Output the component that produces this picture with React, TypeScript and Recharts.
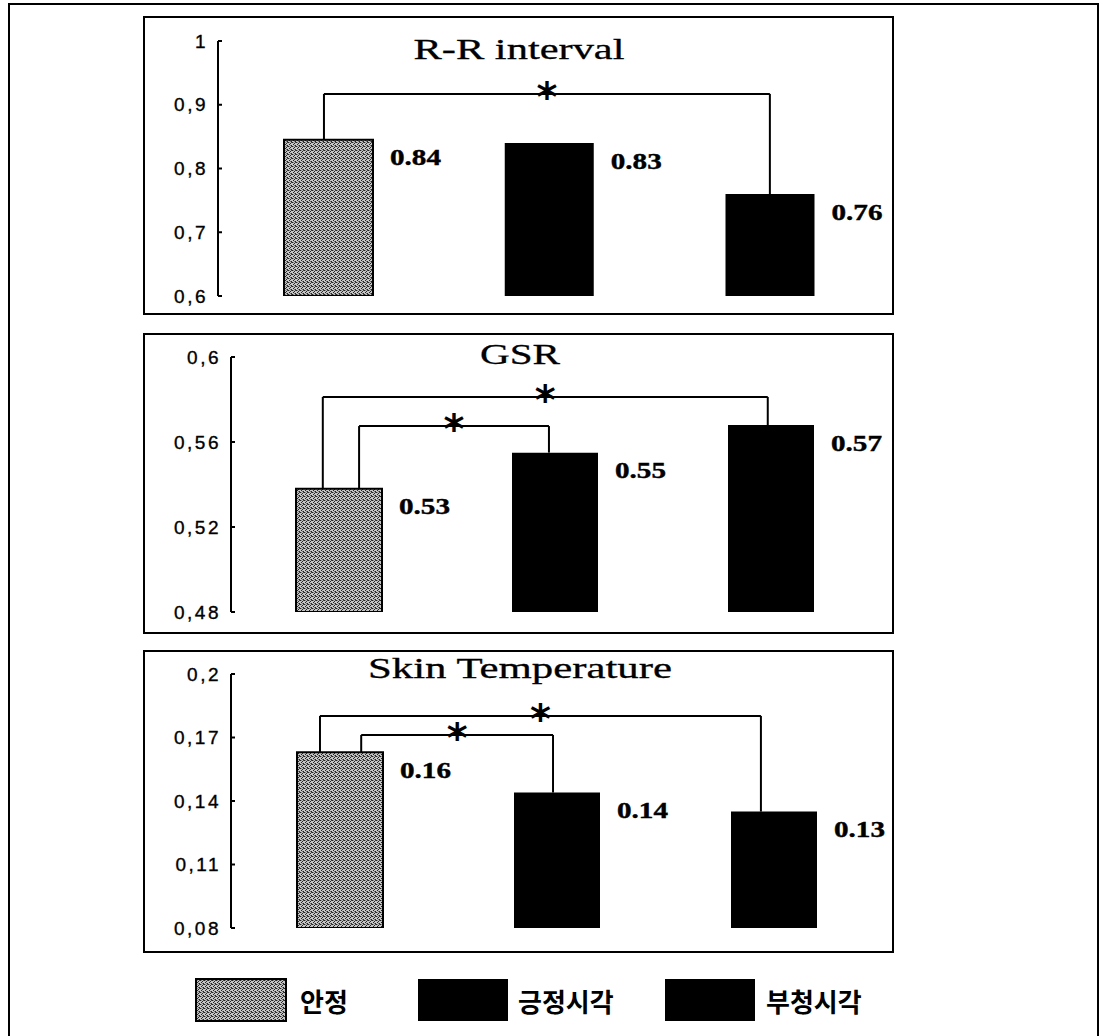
import React from 'react';
import { BarChart, Bar, XAxis, YAxis, Cell, LabelList, ReferenceLine, ReferenceDot, Customized } from 'recharts';

// ---------- data ----------
const categories = ['안정', '긍정시각', '부청시각'];
const barColors = ['url(#stipple)', '#000000', '#000000'];

const rrValues = [0.845, 0.84, 0.76];
const rrLabels = ['0.84', '0.83', '0.76'];
const rrTicks = [0.6, 0.7, 0.8, 0.9, 1];
const rrTickLabels = ['0,6', '0,7', '0,8', '0,9', '1'];
const rrBrackets = [{ from: 0, to: 2, level: 0.917 }];

const gsrValues = [0.538, 0.555, 0.568];
const gsrLabels = ['0.53', '0.55', '0.57'];
const gsrTicks = [0.48, 0.52, 0.56, 0.6];
const gsrTickLabels = ['0,48', '0,52', '0,56', '0,6'];
const gsrBrackets = [
  { from: 0, to: 2, level: 0.5812 },
  { from: 0, to: 1, level: 0.5675 },
];

const skinValues = [0.163, 0.144, 0.135];
const skinLabels = ['0.16', '0.14', '0.13'];
const skinTicks = [0.08, 0.11, 0.14, 0.17, 0.2];
const skinTickLabels = ['0,08', '0,11', '0,14', '0,17', '0,2'];
const skinBrackets = [
  { from: 0, to: 2, level: 0.1802 },
  { from: 0, to: 1, level: 0.1712 },
];

// ---------- layout ----------
const W = 1100;
const Y_AXIS_W = 80;

const L1 = { top: 18, bottom: 313, plotTop: 41, plotBottom: 296, axisX: 218, axisEnd: 866, step: 220.75, barSize: 89,
  title: 'R-R interval', titleX: 519, titleBase: 59, titleSize: 30, titleLen: 211, shifts: [[-0.02, 0]] };
const L2 = { top: 336, bottom: 632, plotTop: 357, plotBottom: 612, axisX: 231, axisEnd: 879, step: 216, barSize: 86,
  title: 'GSR', titleX: 520, titleBase: 364, titleSize: 30, titleLen: 80, shifts: [[-0.075, -0.015], [0.093, -0.028]] };
const L3 = { top: 652, bottom: 950, plotTop: 674, plotBottom: 928, axisX: 231, axisEnd: 883, step: 217, barSize: 86,
  title: 'Skin Temperature', titleX: 520, titleBase: 678, titleSize: 30, titleLen: 304, shifts: [[-0.09, -0.058], [0.1, -0.016]] };

const legendSwatchX = [195, 417, 664];
const legendTextX = [300, 518, 766];

const TICK_FONT = "'Liberation Sans', Arial, sans-serif";
const SERIF = "'Liberation Serif', 'Times New Roman', serif";

function makeTick(ticks: number[], labels: string[]) {
  return (props: any) => {
    const { x, y, payload } = props;
    const idx = ticks.findIndex((t) => Math.abs(t - payload.value) < 1e-9);
    const nx = Number(x);
    const ny = Number(y);
    return (
      <g>
        <text x={nx} y={ny} textAnchor="end" dominantBaseline="central" fontFamily={TICK_FONT}
          fontSize={19} letterSpacing={2.5} stroke="#000" strokeWidth={0.35} fill="#000">{idx >= 0 ? labels[idx] : ''}</text>
        <line x1={nx + 10} x2={nx + 14} y1={ny} y2={ny} stroke="#000" strokeWidth={2} />
      </g>
    );
  };
}

const ValueLabel = (props: any) => {
  const { x, y, width, value } = props;
  const lx = Number(x) + Number(width) + 17;
  const ly = Number(y) + 18;
  return (
    <text x={lx} y={ly} dominantBaseline="central" fontFamily={SERIF} fontWeight={700} fontSize={23}
      textLength={51} lengthAdjust="spacingAndGlyphs" stroke="#000" strokeWidth={0.4} fill="#000">{value}</text>
  );
};

type Bracket = { from: number; to: number; level: number };

function Panel({ values, labels, ticks, tickLabels, brackets, L }: {
  values: number[]; labels: string[]; ticks: number[]; tickLabels: string[]; brackets: Bracket[]; L: any;
}) {
  const rows = categories.map((name, i) => ({ name, x: i + 0.5, value: values[i], label: labels[i] }));
  const height = L.bottom - L.top;
  const margin = { top: L.plotTop - L.top, bottom: L.bottom - L.plotBottom, left: L.axisX - Y_AXIS_W, right: W - L.axisEnd };
  const xMax = (L.axisEnd - L.axisX) / L.step;
  const domain = [ticks[0], ticks[ticks.length - 1]];
  const lineStyle = { stroke: '#000', strokeWidth: 2 };

  const bracketEls: any[] = [];
  brackets.forEach((b, k) => {
    const xl = b.from + 0.5 + L.shifts[k][0];
    const xr = b.to + 0.5 + L.shifts[k][1];
    bracketEls.push(
      <ReferenceLine key={`l${k}`} segment={[{ x: xl, y: values[b.from] }, { x: xl, y: b.level }]} {...lineStyle} ifOverflow="visible" />,
      <ReferenceLine key={`h${k}`} segment={[{ x: xl, y: b.level }, { x: xr, y: b.level }]} {...lineStyle} ifOverflow="visible" />,
      <ReferenceLine key={`r${k}`} segment={[{ x: xr, y: b.level }, { x: xr, y: values[b.to] }]} {...lineStyle} ifOverflow="visible" />,
      <ReferenceDot key={`s${k}`} x={(xl + xr) / 2} y={b.level} r={0} ifOverflow="visible"
        shape={(p: any) => (
          <text x={Number(p.cx)} y={Number(p.cy) + 17} textAnchor="middle" fontFamily="'DejaVu Sans', sans-serif"
            fontWeight={700} fontSize={40} fill="#000">*</text>
        )} />
    );
  });

  const Title = () => (
    <text x={L.titleX} y={L.titleBase - L.top} textAnchor="middle" fontFamily={SERIF} fontSize={L.titleSize}
      textLength={L.titleLen} lengthAdjust="spacingAndGlyphs" stroke="#000" strokeWidth={0.3} fill="#000">{L.title}</text>
  );

  return (
    <div style={{ position: 'absolute', left: 0, top: L.top }}>
      <BarChart width={W} height={height} data={rows} margin={margin}>
        <XAxis type="number" dataKey="x" domain={[0, xMax]} ticks={[0.5, 1.5, 2.5]} tick={false} tickLine={false}
          axisLine={lineStyle} height={0} allowDataOverflow />
        <YAxis type="number" domain={domain} ticks={ticks} interval={0} width={Y_AXIS_W} tickSize={0} tickMargin={10}
          tickLine={false} axisLine={lineStyle} tick={makeTick(ticks, tickLabels)} allowDataOverflow />
        <Bar dataKey="value" barSize={L.barSize} isAnimationActive={false}>
          {rows.map((r, i) => (
            <Cell key={r.name} fill={barColors[i]} stroke={i === 0 ? '#000' : 'none'} strokeWidth={2} />
          ))}
          <LabelList dataKey="label" content={ValueLabel} />
        </Bar>
        {bracketEls}
        <Customized component={Title} />
      </BarChart>
    </div>
  );
}

export default function App() {
  const frame = (left: number, top: number, width: number, height: number) => ({
    position: 'absolute' as const, left, top, width, height, border: '2px solid #000', boxSizing: 'border-box' as const,
  });
  return (
    <div style={{ position: 'absolute', left: 0, top: 0, width: W, height: 1036, overflow: 'hidden', background: '#fff' }}>
      <svg width={0} height={0} style={{ position: 'absolute' }}>
        <defs>
          <pattern id="stipple" width={4} height={4} patternUnits="userSpaceOnUse">
            <rect width={4} height={4} fill="#c4c4c4" />
            <rect x={0} y={0} width={1} height={1} fill="#222" />
            <rect x={2} y={1} width={1} height={1} fill="#222" />
            <rect x={1} y={2} width={1} height={1} fill="#222" />
            <rect x={3} y={3} width={1} height={1} fill="#222" />
            <rect x={3} y={0} width={1} height={1} fill="#444" />
            <rect x={1} y={0} width={1} height={1} fill="#888" />
            <rect x={2} y={3} width={1} height={1} fill="#777" />
          </pattern>
        </defs>
      </svg>
      <div style={frame(8, 3, 1091, 1045)} />
      <div style={frame(143, 16, 751, 299)} />
      <div style={frame(143, 333, 751, 301)} />
      <div style={frame(143, 650, 751, 303)} />

      <Panel values={rrValues} labels={rrLabels} ticks={rrTicks} tickLabels={rrTickLabels} brackets={rrBrackets} L={L1} />
      <Panel values={gsrValues} labels={gsrLabels} ticks={gsrTicks} tickLabels={gsrTickLabels} brackets={gsrBrackets} L={L2} />
      <Panel values={skinValues} labels={skinLabels} ticks={skinTicks} tickLabels={skinTickLabels} brackets={skinBrackets} L={L3} />

      <svg style={{ position: 'absolute', left: 0, top: 960 }} width={W} height={70}>
        {categories.map((c, i) => (
          <g key={c}>
            <rect x={legendSwatchX[i] + 1} y={19} width={90} height={42} fill={barColors[i]} stroke="#000"
              strokeWidth={i === 0 ? 2 : 0} />
            <text x={legendTextX[i]} y={40} dominantBaseline="central" fontFamily="'Noto Sans CJK KR', sans-serif"
              fontWeight={700} fontSize={26} fill="#000">{c}</text>
          </g>
        ))}
      </svg>
    </div>
  );
}
